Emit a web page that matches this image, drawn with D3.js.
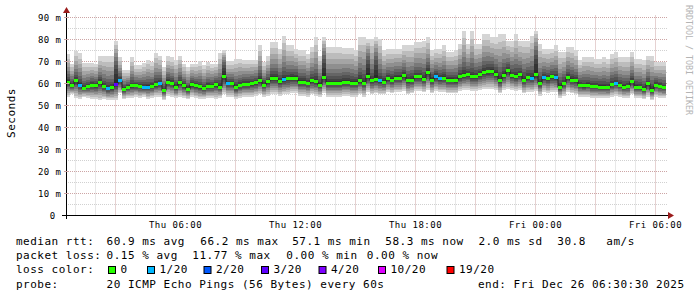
<!DOCTYPE html>
<html><head><meta charset="utf-8">
<script src="https://cdn.jsdelivr.net/npm/d3@7"></script>
<style>
html,body{margin:0;padding:0;background:#fff;}
svg{display:block;}
text{font-family:"DejaVu Sans Mono",monospace;}
</style></head>
<body>
<svg id="c" width="697" height="297"></svg>
<script>
// ---------- DATA (ms, one value per 12-minute step, 150 steps) ----------
const median = [
60.9,59.4,61.4,59.4,58.0,58.8,59.5,59.1,60.8,58.9,57.9,58.3,59.7,61.7,57.6,58.6,59.1,59.2,58.8,58.5,
58.6,58.9,59.7,60.3,57.1,60.9,60.3,58.3,60.5,59.1,57.7,59.7,59.1,58.8,57.9,58.9,58.9,59.8,58.6,63.2,
60.3,60.3,58.3,59.4,59.8,59.8,60.2,60.5,61.7,59.5,61.1,62.6,62.6,61.1,62.0,62.3,62.7,62.7,60.9,60.9,
60.3,61.4,61.2,59.5,63.0,60.3,60.3,60.3,60.3,60.9,60.9,60.3,60.3,61.7,60.3,63.2,61.4,62.0,61.4,60.9,
62.3,61.8,62.7,62.7,63.8,61.4,61.7,63.2,63.2,62.1,65.3,61.7,63.3,62.4,62.7,61.8,61.8,61.5,63.2,63.9,
64.2,63.3,63.3,64.2,65.2,65.6,65.9,64.4,61.4,63.9,66.2,63.8,63.3,64.2,61.8,62.9,62.7,64.1,60.2,63.0,
62.3,63.2,62.9,58.5,60.2,62.9,61.8,61.4,59.5,59.1,59.5,58.9,58.8,58.6,58.6,58.3,59.8,60.3,59.4,58.6,
58.9,61.2,58.6,58.5,57.6,60.0,57.1,59.5,58.9,58.3];
const smokeMax = [
73.2,69,74.7,73.8,69.4,69.4,69.4,69,72.3,72.3,72.3,72.3,79.1,72,66,66,72,68.2,68.2,69.4,
70.8,69.7,73.8,72.7,67.4,72.3,72,70.5,72.7,69,67.4,69,69,70,68.5,69.7,69,69,73.8,75,
70,70,71.2,71.2,70.8,70.8,70.8,70.8,77.7,69.7,72.3,78.8,78.8,75.8,81.8,77.3,77.3,75.8,75,75,
73.5,76.8,81,72.7,81,76.5,76.5,76.5,76.5,76.2,76.2,76.2,75.3,81,81,80,80.3,81,80.3,75,
75.8,75.8,75.8,75.8,77.3,77.3,77.3,78.8,78.8,79.5,81,75,75.8,75.8,77.3,74.2,74.2,75,78,84,
78,84,78,78,82.6,82.6,81,81,82.6,82.6,79.5,79.5,82.6,79.5,79.5,79.5,81.8,84,78,75.8,
75.8,75.8,77.3,74.2,74.2,76.5,76.5,75,70.5,72,72,72,71.2,71.2,72,71.2,73.5,74.2,72,72,
72,74.2,71.2,71.2,70.5,72.7,72.7,69.7,69.7,69.7];
const smokeMin = [
54,55,53.5,53,54,53.5,53,53,52.5,53,52.5,52.5,52.5,55.5,53,53.5,53.5,54,53.5,54,
53,53.5,54,54,52.5,54.5,54,53.5,54,53.5,53,54,53.5,53,53,53.5,53.5,53,53.5,55,
54,54,53,53.5,54,54,54,54.5,55,54,54.5,55,55,54.5,55,55,55.5,55.5,54.5,54.5,
54,55,54.5,54,55.5,54,54,54,54,54.5,54.5,54,54,55,54,56,55,55.5,55,55,
56,55.5,56,56,56.5,55,55.5,56.5,56.5,56,57,55.5,56.5,56,56,55.5,55.5,55.5,56.5,57,
57,56.5,56.5,57,57.5,57.5,57.5,57,55.5,57,57.5,57,56.5,57,55.5,56,56,56.5,54.5,56,
55.5,56,56,53.5,54.5,56,55.5,55,54,54,54,53.5,53.5,53.5,53.5,53.5,54,54.5,54,53.5,
53.5,55,53.5,53.5,53,54,52.5,54,53.5,53.5];
// steps where most of the pings were high (dark smoke columns)
const darkSteps = [12, 39, 64, 75, 77, 117];
// packet loss (pings lost out of 20) at the steps that had loss
const lossSteps = [3, 10, 12, 13, 19, 20, 23, 40, 54, 78, 92, 93, 116, 119, 122, 137];
const lossCounts = [1, 1, 3, 1, 1, 1, 1, 1, 1, 1, 1, 1, 1, 1, 1, 1];
const lossLabels = ["0", "1/20", "2/20", "3/20", "4/20", "10/20", "19/20"];
const lossLevels = [0, 1, 2, 3, 4, 10, 19];
const lossColors = ["#26ff00", "#00b8ff", "#0059ff", "#5e00ff", "#7e00ff", "#dd00ff", "#ff0000"];
const yTicks = [0, 10, 20, 30, 40, 50, 60, 70, 80, 90];
const yTickLabels = ["0 ", "10 m", "20 m", "30 m", "40 m", "50 m", "60 m", "70 m", "80 m", "90 m"];
const xTickTimes = ["2025-12-25T06:00:00Z", "2025-12-25T12:00:00Z", "2025-12-25T18:00:00Z", "2025-12-26T00:00:00Z", "2025-12-26T06:00:00Z"];
const xTickLabels = ["Thu 06:00", "Thu 12:00", "Thu 18:00", "Fri 00:00", "Fri 06:00"];
const startTime = "2025-12-25T00:30:30Z";
const endTime = "2025-12-26T06:30:30Z";

// ---------- CHART ----------
const svg = d3.select("#c");
const T0 = new Date(startTime), T1 = new Date(endTime);
const STEP = (T1 - T0) / median.length;
const x = d3.scaleUtc().domain([T0, T1]).range([65.7, 665.7]);
const y = d3.scaleLinear().domain([0, 90.9]).range([215.5, 15.5]);
const X0 = 66, XR = 668, YT = 15.5, YB = 215.5;

const minorCol = "#d1d1d1", majorCol = "#cda5a5";
const g = svg.append("g");

// grid: horizontal
d3.range(5, 91, 5).forEach(v => {
  const major = v % 10 === 0;
  g.append("line").attr("x1", X0).attr("x2", XR)
    .attr("y1", Math.round(y(v)) + 0.5).attr("y2", Math.round(y(v)) + 0.5)
    .attr("stroke", major ? majorCol : minorCol).attr("stroke-dasharray", "1,1");
});
// grid: vertical
x.ticks(d3.utcHour.every(1)).forEach(t => {
  const major = t.getUTCHours() % 3 === 0;
  const xx = Math.floor(x(t)) + 0.5;
  if (xx <= X0) return;
  g.append("line").attr("x1", xx).attr("x2", xx).attr("y1", YT).attr("y2", YB)
    .attr("stroke", major ? majorCol : minorCol).attr("stroke-dasharray", "1,1");
});

// smoke
const smoke = svg.append("g").attr("shape-rendering", "crispEdges");
median.forEach((m, k) => {
  const lo = smokeMin[k], hi = smokeMax[k];
  const q = darkSteps.includes(k) ? 0.8 : 1.7;
  const p = [];
  for (let i = 0; i < 20; i++) {
    const s = (i - 9.5) / 9.5;
    p.push(s >= 0 ? m + (hi - m) * Math.pow(s, q) : m - (m - lo) * Math.pow(-s, 1.25));
  }
  const t0 = new Date(+T0 + k * STEP), t1 = new Date(+T0 + (k + 1) * STEP);
  const xa = Math.round(x(t0)), xb = Math.round(x(t1));
  for (let j = 0; j < 19; j++) {
    const tt = Math.abs(j + 0.5 - 9.5) / 9.5;
    const c = Math.round(42 + 183 * Math.pow(tt, 1.3));
    const ya = y(p[j + 1]), yb = y(p[j]);
    smoke.append("rect").attr("x", xa).attr("width", xb - xa)
      .attr("y", ya).attr("height", Math.max(0, yb - ya))
      .attr("fill", `rgb(${c},${c},${c})`);
  }
});

// median black step line
const pts = median.map((m, k) => [new Date(+T0 + k * STEP), m]);
pts.push([T1, median[median.length - 1]]);
svg.append("path")
  .attr("d", d3.line().x(d => Math.round(x(d[0]))).y(d => Math.round(y(d[1])) + 0.5).curve(d3.curveStepAfter)(pts))
  .attr("fill", "none").attr("stroke", "#202020").attr("stroke-width", 1);

// median coloured by loss
function lossColor(k) {
  const idx = lossSteps.indexOf(k);
  const n = idx < 0 ? 0 : lossCounts[idx];
  let ci = 0;
  lossLevels.forEach((lv, i) => { if (n >= lv) ci = i; });
  return lossColors[ci];
}
const medG = svg.append("g").attr("shape-rendering", "crispEdges");
median.forEach((m, k) => {
  const xa = Math.round(x(new Date(+T0 + k * STEP))), xb = Math.round(x(new Date(+T0 + (k + 1) * STEP)));
  medG.append("rect").attr("x", xa).attr("width", xb - xa)
    .attr("y", Math.round(y(m)) - 1).attr("height", 3).attr("fill", lossColor(k));
});

// axes
const ax = svg.append("g");
ax.append("line").attr("x1", 62).attr("x2", 669).attr("y1", YB).attr("y2", YB).attr("stroke", "#000");
ax.append("line").attr("x1", X0 + 0.5).attr("x2", X0 + 0.5).attr("y1", 219).attr("y2", 11).attr("stroke", "#000");
ax.append("path").attr("d", "M668,212L674,215.5L668,219Z").attr("fill", "#9b1c1c");
ax.append("path").attr("d", "M63,13L66.5,7L70,13Z").attr("fill", "#9b1c1c");
// axis ticks
yTicks.forEach(v => {
  if (v === 0) return;
  ax.append("line").attr("x1", X0 - 2).attr("x2", X0 + 3)
    .attr("y1", Math.round(y(v)) + 0.5).attr("y2", Math.round(y(v)) + 0.5).attr("stroke", majorCol);
});

// y labels
yTicks.forEach((v, i) => {
  svg.append("text").attr("x", 61.5).attr("y", y(v) + 3.2)
    .attr("text-anchor", "end").attr("font-size", 9).attr("letter-spacing", 0.48)
    .attr("xml:space", "preserve").style("white-space", "pre")
    .text(yTickLabels[i]);
});
// x labels
xTickTimes.forEach((s, i) => {
  svg.append("text").attr("x", Math.floor(x(new Date(s))) + 0.5).attr("y", 227.5)
    .attr("text-anchor", "middle").attr("font-size", 9).attr("letter-spacing", 0.48)
    .text(xTickLabels[i]);
});

// y title
svg.append("text").attr("transform", "translate(14.5,113) rotate(-90)")
  .attr("text-anchor", "middle").attr("font-size", 11).attr("letter-spacing", 0.5)
  .text("Seconds");

// watermark
svg.append("text").attr("transform", "translate(685.5,5) rotate(90)")
  .attr("font-size", 8.3).attr("fill", "#b4b4b4")
  .attr("xml:space", "preserve").style("white-space", "pre")
  .text("RRDTOOL / TOBI OETIKER");

// legend
const leg = svg.append("g").attr("font-size", 11).attr("letter-spacing", 0.5)
  .attr("xml:space", "preserve").style("white-space", "pre");
function lt(xp, yp, s) { leg.append("text").attr("x", xp).attr("y", yp).text(s); }
const L1 = 244.5, L2 = 258.7, L3 = 273.2, L4 = 287.5;
lt(16, L1, "median rtt:");
lt(106.6, L1, "60.9 ms avg");
lt(200.3, L1, "66.2 ms max");
lt(292.2, L1, "57.1 ms min");
lt(385.3, L1, "58.3 ms now");
lt(478.5, L1, "2.0 ms sd");
lt(557.3, L1, "30.8");
lt(606.3, L1, "am/s");
lt(16, L2, "packet loss:");
lt(106.6, L2, "0.15 % avg");
lt(192.3, L2, "11.77 % max");
lt(286.3, L2, "0.00 % min");
lt(366.8, L2, "0.00 % now");
lt(16, L3, "loss color:");
const boxX = [108, 147, 203.5, 261, 318.5, 378, 446.5];
lossLabels.forEach((lab, i) => {
  svg.append("rect").attr("x", boxX[i] + 0.5).attr("y", 266.5).attr("width", 7).attr("height", 7)
    .attr("fill", lossColors[i]).attr("stroke", "#000").attr("stroke-width", 1);
  lt(boxX[i] + 12.5, L3, lab);
});
lt(16, L4, "probe:");
lt(106.6, L4, "20 ICMP Echo Pings (56 Bytes) every 60s");
lt(478, L4, "end: Fri Dec 26 06:30:30 2025");
</script>
</body></html>
